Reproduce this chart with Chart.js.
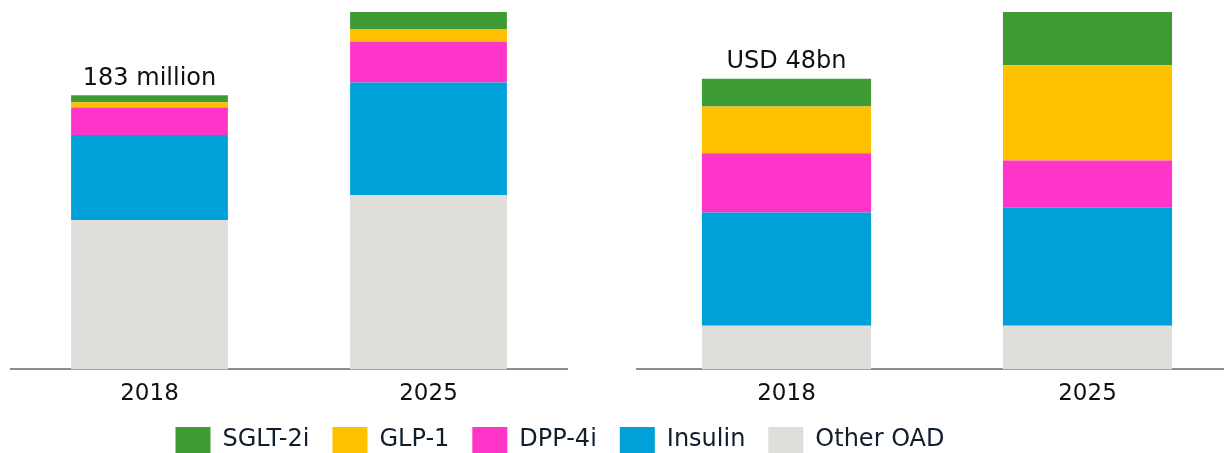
<!DOCTYPE html>
<html>
<head>
<meta charset="utf-8">
<script src="https://cdn.jsdelivr.net/npm/chart.js@4.4.1/dist/chart.umd.min.js"></script>
<style>
  html, body { margin: 0; padding: 0; background: #ffffff; overflow: hidden; width: 1224px; height: 453px; }
  canvas { position: absolute; display: block; }
  #left { left: 10px; top: 0px; }
  #right { left: 636px; top: 0px; }
  #legend { left: 0px; top: 404px; }
</style>
</head>
<body>
<canvas id="left" width="558" height="420"></canvas>
<canvas id="right" width="602" height="420"></canvas>
<canvas id="legend" width="1120" height="200"></canvas>
<script>
// ---- Data ----
const categories = ['2018', '2025'];
const seriesNames = ['SGLT-2i', 'GLP-1', 'DPP-4i', 'Insulin', 'Other OAD'];
const seriesColors = ['#3f9c35', '#ffc000', '#ff35c9', '#00a0d8', '#dfdeda'];

// Patients (million)
const patientsSGLT = [4.7, 11.6];
const patientsGLP = [3.6, 8.3];
const patientsDPP = [18.3, 27.2];
const patientsInsulin = [56.7, 75.0];
const patientsOther = [99.8, 116.5];
const patientsTotalLabels = ['183 million', ''];

// Value (USD bn)
const valueSGLT = [4.6, 8.8];
const valueGLP = [7.7, 15.7];
const valueDPP = [9.8, 7.8];
const valueInsulin = [18.7, 19.5];
const valueOther = [7.2, 7.2];
const valueTotalLabels = ['USD 48bn', ''];

const FONT = "'DejaVu Sans', Verdana, sans-serif";
Chart.defaults.font.family = FONT;

function makeDatasets(sglt, glp, dpp, ins, other) {
  // bottom to top: Other OAD, Insulin, DPP-4i, GLP-1, SGLT-2i
  const arrs = [other, ins, dpp, glp, sglt];
  const idx = [4, 3, 2, 1, 0];
  return arrs.map((a, i) => ({
    label: seriesNames[idx[i]],
    data: a,
    backgroundColor: seriesColors[idx[i]],
    borderWidth: 0,
    barPercentage: 0.562,
    categoryPercentage: 1.0
  }));
}

function stackTotals(datasets) {
  return categories.map((_, i) => datasets.reduce((s, d) => s + d.data[i], 0));
}

const totalLabelPlugin = {
  id: 'totalLabel',
  afterDatasetsDraw(chart, args, opts) {
    const ctx = chart.ctx;
    const totals = stackTotals(chart.data.datasets);
    ctx.save();
    ctx.font = '24px ' + FONT;
    ctx.fillStyle = '#111111';
    ctx.textAlign = 'center';
    ctx.textBaseline = 'alphabetic';
    opts.labels.forEach((t, i) => {
      if (!t) return;
      const x = chart.scales.x.getPixelForValue(i);
      const y = chart.scales.y.getPixelForValue(totals[i]);
      ctx.fillText(t, x, y - opts.gap);
    });
    ctx.restore();
  }
};

function makePanel(id, datasets, labels, gap) {
  const totals = stackTotals(datasets);
  return new Chart(document.getElementById(id), {
    type: 'bar',
    data: { labels: categories, datasets: datasets },
    options: {
      responsive: false,
      animation: false,
      devicePixelRatio: 1,
      layout: { padding: { top: 12, bottom: 1, left: 0, right: 0 } },
      plugins: {
        legend: { display: false },
        tooltip: { enabled: false },
        totalLabel: { labels: labels, gap: gap }
      },
      scales: {
        x: {
          stacked: true,
          grid: { display: false, drawTicks: false },
          border: { display: true, color: '#958b83', width: 2 },
          ticks: { color: '#111111', font: { size: 23, family: FONT }, padding: 11 }
        },
        y: {
          stacked: true,
          display: false,
          min: 0,
          max: Math.max(...totals)
        }
      }
    },
    plugins: [totalLabelPlugin]
  });
}

makePanel('left', makeDatasets(patientsSGLT, patientsGLP, patientsDPP, patientsInsulin, patientsOther), patientsTotalLabels, 10);
makePanel('right', makeDatasets(valueSGLT, valueGLP, valueDPP, valueInsulin, valueOther), valueTotalLabels, 11);

// Legend-only chart
new Chart(document.getElementById('legend'), {
  type: 'bar',
  data: {
    labels: [],
    datasets: seriesNames.map((n, i) => ({ label: n, data: [], backgroundColor: seriesColors[i], borderWidth: 0 }))
  },
  options: {
    responsive: false,
    animation: false,
    devicePixelRatio: 1,
    layout: { padding: 0 },
    scales: { x: { display: false }, y: { display: false } },
    plugins: {
      tooltip: { enabled: false },
      legend: {
        display: true,
        position: 'top',
        align: 'center',
        labels: {
          boxWidth: 35,
          boxHeight: 26,
          padding: 23,
          color: '#0f1e2d',
          font: { size: 24, family: FONT }
        }
      }
    }
  }
});
</script>
</body>
</html>
